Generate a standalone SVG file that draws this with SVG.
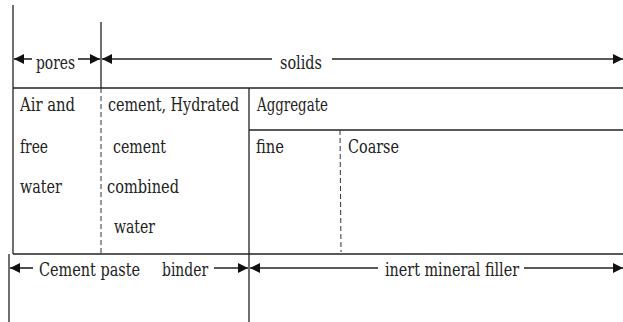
<svg xmlns="http://www.w3.org/2000/svg" width="623" height="322" viewBox="0 0 623 322">
<style>
.ln{stroke:#222;stroke-width:1.3;fill:none}
.ds{stroke:#333;stroke-width:1;stroke-dasharray:5,3;fill:none}
.ar{stroke:#222;stroke-width:1.6;fill:none}
.t{font-family:'DejaVu Serif','Liberation Serif',serif;font-size:19px;fill:#222}
</style>
<defs>
<marker id="ah" viewBox="0 0 10 10" refX="10" refY="5" markerWidth="10" markerHeight="10" markerUnits="userSpaceOnUse" orient="auto-start-reverse">
<path d="M0,0 L10,5 L0,10 z" fill="#111"/>
</marker>
</defs>
<rect width="623" height="322" fill="#fff"/>
<g id="frame">
<line class="ln" x1="13" y1="5" x2="13" y2="254"/>
<line class="ln" x1="101" y1="22" x2="101" y2="88"/>
<line class="ds" x1="101" y1="88" x2="101" y2="254"/>
<line class="ln" x1="13" y1="88" x2="623" y2="88"/>
<line class="ln" x1="249" y1="88" x2="249" y2="322"/>
<line class="ln" x1="249" y1="130" x2="623" y2="130"/>
<line class="ds" x1="340" y1="130" x2="341" y2="252"/>
<line class="ln" x1="13" y1="254" x2="623" y2="254"/>
<line class="ln" x1="9" y1="254" x2="9" y2="322"/>
</g>
<g id="connectors">
<line class="ar" x1="32" y1="59" x2="14" y2="59" marker-end="url(#ah)"/>
<line class="ar" x1="78" y1="59" x2="100" y2="59" marker-end="url(#ah)"/>
<line class="ar" x1="272" y1="59" x2="102" y2="59" marker-end="url(#ah)"/>
<line class="ar" x1="332" y1="59" x2="623" y2="59" marker-end="url(#ah)"/>
<line class="ar" x1="33" y1="268" x2="10" y2="268" marker-end="url(#ah)"/>
<line class="ar" x1="214" y1="268" x2="248" y2="268" marker-end="url(#ah)"/>
<line class="ar" x1="378" y1="268" x2="250" y2="268" marker-end="url(#ah)"/>
<line class="ar" x1="524" y1="268" x2="623" y2="268" marker-end="url(#ah)"/>
</g>
<g id="pores"><text class="t" transform="translate(36,69) scale(0.78,1)" textLength="50" lengthAdjust="spacingAndGlyphs">pores</text></g>
<g id="solids"><text class="t" transform="translate(280,69) scale(0.78,1)" textLength="53.8" lengthAdjust="spacingAndGlyphs">solids</text></g>
<g id="air-water">
<text class="t" transform="translate(20,111) scale(0.78,1)" textLength="70.5" lengthAdjust="spacingAndGlyphs">Air and</text>
<text class="t" transform="translate(20,153) scale(0.78,1)" textLength="35.9" lengthAdjust="spacingAndGlyphs">free</text>
<text class="t" transform="translate(20,193) scale(0.78,1)" textLength="53.8" lengthAdjust="spacingAndGlyphs">water</text>
</g>
<g id="cement">
<text class="t" transform="translate(108,111) scale(0.78,1)" textLength="168" lengthAdjust="spacingAndGlyphs">cement, Hydrated</text>
<text class="t" transform="translate(113,153) scale(0.78,1)" textLength="68" lengthAdjust="spacingAndGlyphs">cement</text>
<text class="t" transform="translate(107,193) scale(0.78,1)" textLength="92.3" lengthAdjust="spacingAndGlyphs">combined</text>
<text class="t" transform="translate(114,233) scale(0.78,1)" textLength="52.6" lengthAdjust="spacingAndGlyphs">water</text>
</g>
<g id="aggregate"><text class="t" transform="translate(257,111) scale(0.78,1)" textLength="91" lengthAdjust="spacingAndGlyphs">Aggregate</text></g>
<g id="fine"><text class="t" transform="translate(256,153) scale(0.78,1)" textLength="35.9" lengthAdjust="spacingAndGlyphs">fine</text></g>
<g id="coarse"><text class="t" transform="translate(348,153) scale(0.78,1)" textLength="65.4" lengthAdjust="spacingAndGlyphs">Coarse</text></g>
<g id="cement-paste">
<text class="t" transform="translate(39,276) scale(0.78,1)" textLength="129.5" lengthAdjust="spacingAndGlyphs">Cement paste</text>
<text class="t" transform="translate(162,276) scale(0.78,1)" textLength="59" lengthAdjust="spacingAndGlyphs">binder</text>
</g>
<g id="filler"><text class="t" transform="translate(385,276) scale(0.78,1)" textLength="171.8" lengthAdjust="spacingAndGlyphs">inert mineral filler</text></g>
</svg>
